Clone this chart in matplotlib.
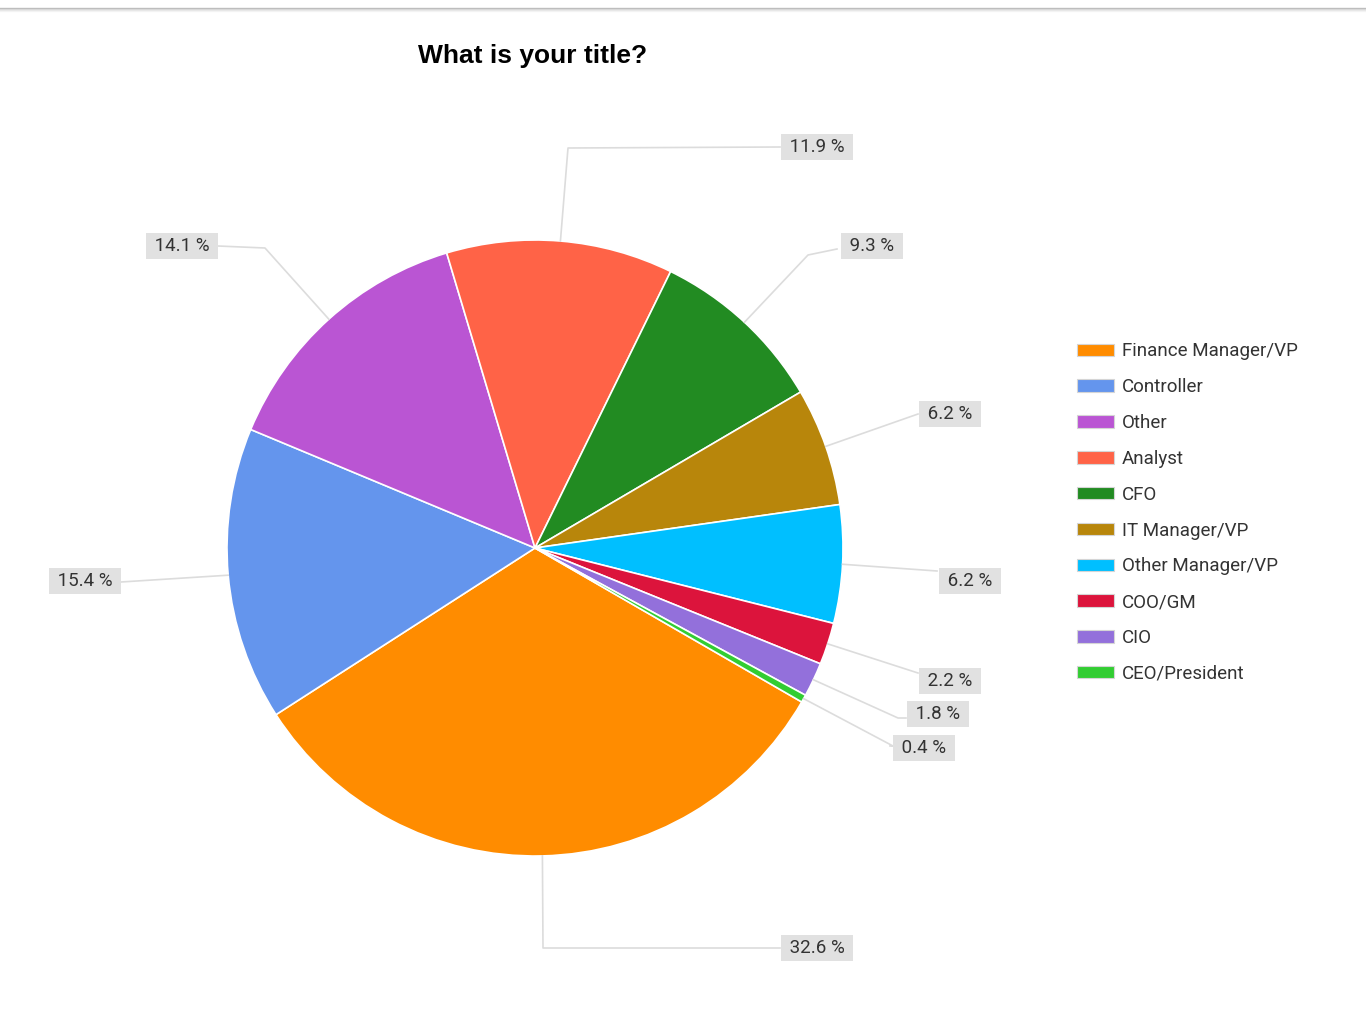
import numpy as np
import matplotlib.pyplot as plt
from matplotlib.patches import Patch

plt.rcParams['font.family'] = ['Roboto', 'DejaVu Sans']

titles = ['Finance Manager/VP', 'Controller', 'Other', 'Analyst', 'CFO',
          'IT Manager/VP', 'Other Manager/VP', 'COO/GM', 'CIO', 'CEO/President']
shares = [32.6, 15.4, 14.1, 11.9, 9.3, 6.2, 6.2, 2.2, 1.8, 0.4]
colors = ['#FF8C00', '#6495ED', '#BA55D3', '#FF6347', '#228B22',
          '#B8860B', '#00BFFF', '#DC143C', '#9370DB', '#32CD32']

W, H = 1366, 1027
fig = plt.figure(figsize=(W / 100, H / 100), dpi=100)
ax = fig.add_axes([0, 0, 1, 1])

cx, cy, r = 535, H - 548, 308
wedges, _ = ax.pie(shares, colors=colors, startangle=-30, counterclock=False,
                   center=(cx, cy), radius=r,
                   wedgeprops=dict(edgecolor='white', linewidth=1.2))
ax.set_xlim(0, W)
ax.set_ylim(0, H)
ax.set_aspect('equal')
ax.axis('off')

# label boxes (center), optional elbow, and where the leader line ends (image px)
boxes = [(817, 948), (85, 581), (182, 246), (817, 147), (872, 246),
         (950, 414), (970, 581), (950, 681), (938, 714), (924, 748)]
elbows = [(543, 948), None, (265, 248), (568, 148), (808, 255),
          None, None, None, (898, 718), (893, 746)]
ends = [(780, 948), (121, 582), (218, 246), (780, 147), (837, 249),
        (918, 414), (937, 571), (918, 673), (906, 718), (890, 746)]

for w, val, box, elb, end in zip(wedges, shares, boxes, elbows, ends):
    mid = np.deg2rad((w.theta1 + w.theta2) / 2)
    px, py = cx + r * np.cos(mid), cy + r * np.sin(mid)
    xs, ys = [px], [py]
    if elb is not None:
        xs.append(elb[0]); ys.append(H - elb[1])
    xs.append(end[0]); ys.append(H - end[1])
    ax.plot(xs, ys, color='#dcdcdc', lw=1.2, zorder=1)
    ax.text(box[0], H - box[1], f' {val} % ', ha='center', va='center',
            fontsize=13.5, color='#333333', zorder=3,
            bbox=dict(boxstyle='square,pad=0.22', fc='#e1e1e1', ec='none'))

ax.text(533, H - 56, 'What is your title?', ha='center', va='center',
        fontsize=19, fontweight='bold', family=['Liberation Sans', 'DejaVu Sans'],
        color='black')

# top border with a soft shadow
for k, a in enumerate([1.0, 0.45, 0.25, 0.12]):
    ax.plot([0, W], [H - 8 - k, H - 8 - k], color='#bdbdbd', alpha=a, lw=1)

handles = [Patch(facecolor=c, edgecolor='#d5d5d5', linewidth=0.8) for c in colors]
leg = fig.legend(handles, titles, loc='upper left',
                 bbox_to_anchor=(1069 / W, 1 - 335 / H), frameon=False,
                 fontsize=13.5, handlelength=2.0, handleheight=0.65,
                 handletextpad=0.42, labelspacing=0.95, borderaxespad=0)
for t in leg.get_texts():
    t.set_color('#333333')

fig.savefig('out.png', dpi=100, facecolor='white')
